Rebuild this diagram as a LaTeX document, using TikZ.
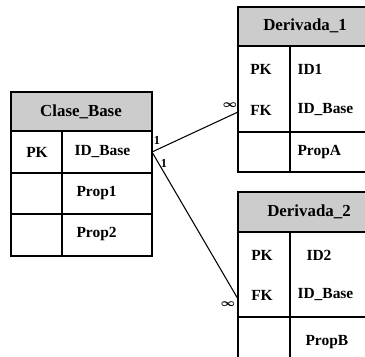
\documentclass[tikz,border=0pt]{standalone}
\usepackage{fontspec}
\usepackage{amsmath}
\setmainfont{Liberation Serif}
\usetikzlibrary{calc}

\begin{document}
\begin{tikzpicture}[
            x=0.02cm,
            y=-0.02cm,
            line width=0.6pt,
            font=\bfseries\fontsize{8.8}{10}\selectfont,
            headfill/.style={fill=gray!40},
            title/.style={inner sep=0pt, font=\bfseries\fontsize{9.6}{11}\selectfont},
            keytext/.style={inner sep=0pt},
            fieldtext/.style={anchor=west, inner sep=0pt},
            mult/.style={inner sep=0pt, font=\bfseries\fontsize{7}{8}\selectfont},
            manymult/.style={inner sep=0pt, font=\fontsize{6}{7}\selectfont}
        ]

            % --- Frame ---
            \useasboundingbox (0,0) rectangle (365,357);
            \clip (0,0) rectangle (365,357);

            % --- Definitions ---
            \def\colA{62}   % key column of Clase_Base
            \def\colB{290}  % key column of the derived tables
            \def\right{372} % derived tables run past the edge

            % --- 1. Clase_Base ---
            \fill[headfill] (11,92) rectangle (152,131);
            \draw (11,92) rectangle (152,256);
            \draw (11,131) -- (152,131);
            \draw (11,173) -- (152,173);
            \draw (11,214) -- (152,214);
            \draw (\colA,131) -- (\colA,256);

            \node[title] (cbtitle) at (81,112) {Clase\_Base};
            \node[keytext] (cbpk) at (37,152) {PK};
            \node[fieldtext] (cbid) at (74,152) {ID\_Base};
            \node[fieldtext] (cbprop1) at (76,193) {Prop1};
            \node[fieldtext] (cbprop2) at (76,234) {Prop2};

            % --- 2. Derivada_1 ---
            \fill[headfill] (238,7) rectangle (\right,46);
            \draw (238,7) rectangle (\right,172);
            \draw (238,46) -- (\right,46);
            \draw (238,132) -- (\right,132);
            \draw (\colB,46) -- (\colB,172);

            \node[title] (dtitle) at (305,26) {Derivada\_1};
            \node[keytext] (dpk) at (261,69) {PK};
            \node[keytext] (dfk) at (261,110) {FK};
            \node[fieldtext] (did) at (297,69) {ID1};
            \node[fieldtext] (dbase) at (297,110) {ID\_Base};
            \node[fieldtext] (dprop) at (297,152) {PropA};

            % --- 3. Derivada_2 ---
            \fill[headfill] (238,192) rectangle (\right,232);
            \draw (238,192) rectangle (\right,370);
            \draw (238,232) -- (\right,232);
            \draw (238,317) -- (\right,317);
            \draw (\colB,232) -- (\colB,370);

            \node[title] (etitle) at (309,212) {Derivada\_2};
            \node[keytext] (epk) at (262,255) {PK};
            \node[keytext] (efk) at (262,295) {FK};
            \node[fieldtext] (eid) at (306,255) {ID2};
            \node[fieldtext] (ebase) at (297,295) {ID\_Base};
            \node[fieldtext] (eprop) at (305,342) {PropB};

            % --- 4. Relations ---
            \coordinate (cbout) at (152,152);
            \coordinate (din) at (238,112);
            \coordinate (ein) at (238,299);

            \draw (cbout) -- (din);
            \draw (cbout) -- (ein);

            \node[mult] (one1) at (157,140) {1};
            \node[mult] (one2) at (164,163) {1};
            \node[manymult] (many1) at (230,105) {$\boldsymbol{\infty}$};
            \node[manymult] (many2) at (228,304) {$\boldsymbol{\infty}$};

        \end{tikzpicture}
\end{document}
